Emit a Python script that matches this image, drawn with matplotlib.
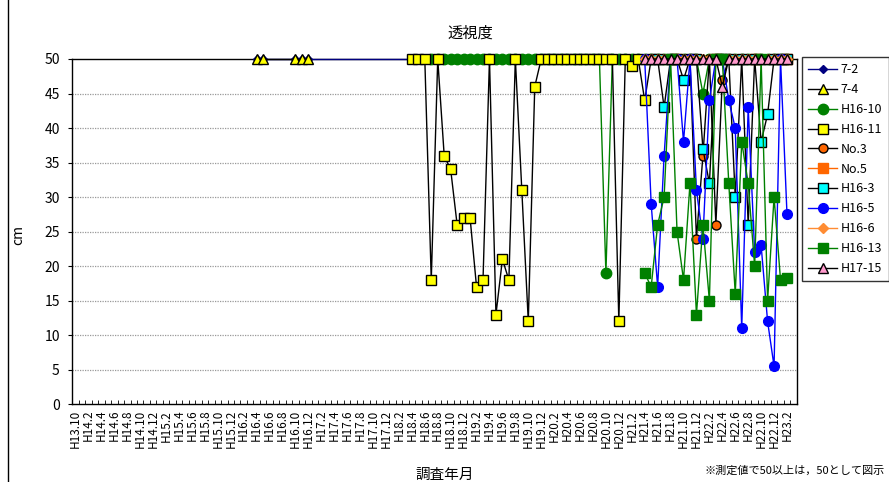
import matplotlib
matplotlib.use("Agg")
import matplotlib.pyplot as plt
from matplotlib.lines import Line2D

plt.rcParams['font.family'] = ['Noto Sans CJK JP', 'DejaVu Sans']

# monthly categories H13.10, H14.1 ... H23.3
categories = ["H13.10"]
for yy in range(14, 24):
    for mm in range(1, 13):
        categories.append(f"H{yy}.{mm}")
        if yy == 23 and mm == 3:
            break
tick_labels = categories[0::2]

# sparse series (months, values)
s7_2_months = ["H16.4", "H16.5", "H16.10", "H16.11", "H16.12", "H18.4",
               "H19.4", "H20.4", "H21.5", "H21.11", "H22.5", "H22.11"]
s7_2_vals = [50, 50, 50, 50, 50, 50, 50, 50, 50, 50, 50, 50]

s7_4_months = ["H16.4", "H16.5", "H16.10", "H16.11", "H16.12"]
s7_4_vals = [50, 50, 50, 50, 50]

no5_months = ["H21.9", "H22.3", "H22.9", "H23.2"]
no5_vals = [50, 50, 50, 50]

# contiguous monthly series (start month, values)
h16_10_start = "H18.7"
h16_10_vals = [50, 50, 50, 50, 50, 50, 50, 50, 50, 50, 50, 50, 50, 50,
               50, 50, 50, 50, 50, 50, 50, 50, 50, 50, 50, 50, 50, 19,
               50, 50, 50, 50, 50, 50, 50, 50, 50, 50, 50, 50, 50, 50, 45,
               50, 50, 50, 50, 50, 50, 50, 50, 50, 50, 50, 50, 50]

h16_11_start = "H18.4"
h16_11_vals = [50, 50, 50, 18, 50, 36, 34, 26, 27, 27, 17, 18, 50, 13,
               21, 18, 50, 31, 12, 46, 50, 50, 50, 50, 50, 50, 50, 50,
               50, 50, 50, 50, 12, 50, 49, 50, 44, 50]

no3_start = "H21.6"
no3_vals = [50, 50, 50, 50, 50, 50, 24, 36, 50, 26, 47, 50, 50, 50,
            50, 50, 50, 50, 50, 50, 50]

h16_3_start = "H21.6"
h16_3_vals = [50, 43, 50, 50, 47, 50, 50, 37, 32, 50, 50, 50, 30, 50,
              26, 50, 38, 42, 50, 50, 50]

h16_5_start = "H21.4"
h16_5_vals = [50, 29, 17, 36, 50, 50, 38, 50, 31, 24, 44, 50, 50, 44,
              40, 11, 43, 22, 23, 12, 5.5, 50, 27.5]

h16_6_start = "H21.4"
h16_6_vals = [50, 50, 50, 50, 50, 50, 50, 50, 50, 50, 50, 50, 50, 50,
              50, 50, 50, 50, 50, 50, 50, 50, 50]

h16_13_start = "H21.4"
h16_13_vals = [19, 17, 26, 30, 50, 25, 18, 32, 13, 26, 15, 50, 50, 32,
               16, 38, 32, 20, 50, 15, 30, 18, 18.3]

h17_15_start = "H21.4"
h17_15_vals = [50, 50, 50, 50, 50, 50, 50, 50, 50, 50, 50, 50, 46, 50,
               50, 50, 50, 50, 50, 50, 50, 50, 50]


def pos_sparse(months):
    return [categories.index(m) for m in months]


def pos_run(start, vals):
    i0 = categories.index(start)
    return list(range(i0, i0 + len(vals)))


fig = plt.figure(figsize=(8.89, 4.82), dpi=100)
ax = fig.add_axes([72.3 / 889, 1 - 404.3 / 482, 724.4 / 889, 345.3 / 482])

series = [
    ("7-2", pos_sparse(s7_2_months), s7_2_vals,
     dict(color="#000080", marker="D", ms=4.5, mfc="#000080", mec="#000080")),
    ("7-4", pos_sparse(s7_4_months), s7_4_vals,
     dict(color="black", marker="^", ms=7, mfc="#FFFF00", mec="black")),
    ("H16-10", pos_run(h16_10_start, h16_10_vals), h16_10_vals,
     dict(color="#008000", marker="o", ms=7.5, mfc="#008000", mec="#008000")),
    ("H16-11", pos_run(h16_11_start, h16_11_vals), h16_11_vals,
     dict(color="black", marker="s", ms=6.5, mfc="#FFFF00", mec="black")),
    ("No.3", pos_run(no3_start, no3_vals), no3_vals,
     dict(color="black", marker="o", ms=6.5, mfc="#FF6600", mec="black")),
    ("No.5", pos_sparse(no5_months), no5_vals,
     dict(color="#FF6600", marker="s", ms=6.5, mfc="#FF6600", mec="#FF6600")),
    ("H16-3", pos_run(h16_3_start, h16_3_vals), h16_3_vals,
     dict(color="black", marker="s", ms=6.5, mfc="#00FFFF", mec="black")),
    ("H16-5", pos_run(h16_5_start, h16_5_vals), h16_5_vals,
     dict(color="#0000FF", marker="o", ms=7, mfc="#0000FF", mec="#0000FF")),
    ("H16-6", pos_run(h16_6_start, h16_6_vals), h16_6_vals,
     dict(color="#FF8C33", marker="D", ms=5, mfc="#FF8C33", mec="#FF8C33")),
    ("H16-13", pos_run(h16_13_start, h16_13_vals), h16_13_vals,
     dict(color="#008000", marker="s", ms=6.5, mfc="#008000", mec="#008000")),
    ("H17-15", pos_run(h17_15_start, h17_15_vals), h17_15_vals,
     dict(color="black", marker="^", ms=7, mfc="#FF99CC", mec="black")),
]

handles = []
for i, (name, xs, ys, st) in enumerate(series):
    ln, = ax.plot(xs, ys, lw=1.0, mew=1.0, clip_on=False, zorder=3 + i,
                  label=name, **st)
    handles.append(ln)

ax.set_xlim(-0.5, len(categories) - 0.5)
ax.set_ylim(0, 50)
ax.set_yticks(range(0, 51, 5))
ax.tick_params(axis="y", labelsize=10, length=3, direction="out", pad=6)
for v in range(5, 50, 5):
    ax.axhline(v, color="#999999", lw=0.9, ls=(0, (1, 1)), zorder=1)

ax.set_xticks(range(0, len(categories), 2))
ax.set_xticklabels(tick_labels, rotation=90, fontsize=8.5)
ax.set_xticks([i - 0.5 for i in range(len(categories) + 1)], minor=True)
ax.tick_params(axis="x", which="major", length=0, pad=4)
ax.tick_params(axis="x", which="minor", length=3, direction="in")
for sp in ax.spines.values():
    sp.set_color("black")
    sp.set_linewidth(1.0)

fig.text(470 / 889, 1 - 33 / 482, "透視度", ha="center", va="center", fontsize=11)
fig.text(445 / 889, 1 - 475 / 482, "調査年月", ha="center", va="center", fontsize=10.5)
fig.text(18 / 889, 1 - 235 / 482, "cm", ha="center", va="center", rotation=90, fontsize=10)
fig.text(885 / 889, 1 - 471 / 482, "※測定値で50以上は，50として図示",
         ha="right", va="center", fontsize=8)

fig.add_artist(Line2D([8 / 889, 8 / 889], [0, 1], color="black", lw=1.0))

leg = fig.legend(handles=handles, loc="upper left",
                 bbox_to_anchor=(802 / 889, 1 - 57 / 482),
                 fontsize=9, frameon=True, fancybox=False, edgecolor="black",
                 handlelength=2.3, labelspacing=0.55, borderpad=0.5,
                 handletextpad=0.3, borderaxespad=0)
leg.get_frame().set_linewidth(1.0)

fig.savefig("out.png", dpi=100)
